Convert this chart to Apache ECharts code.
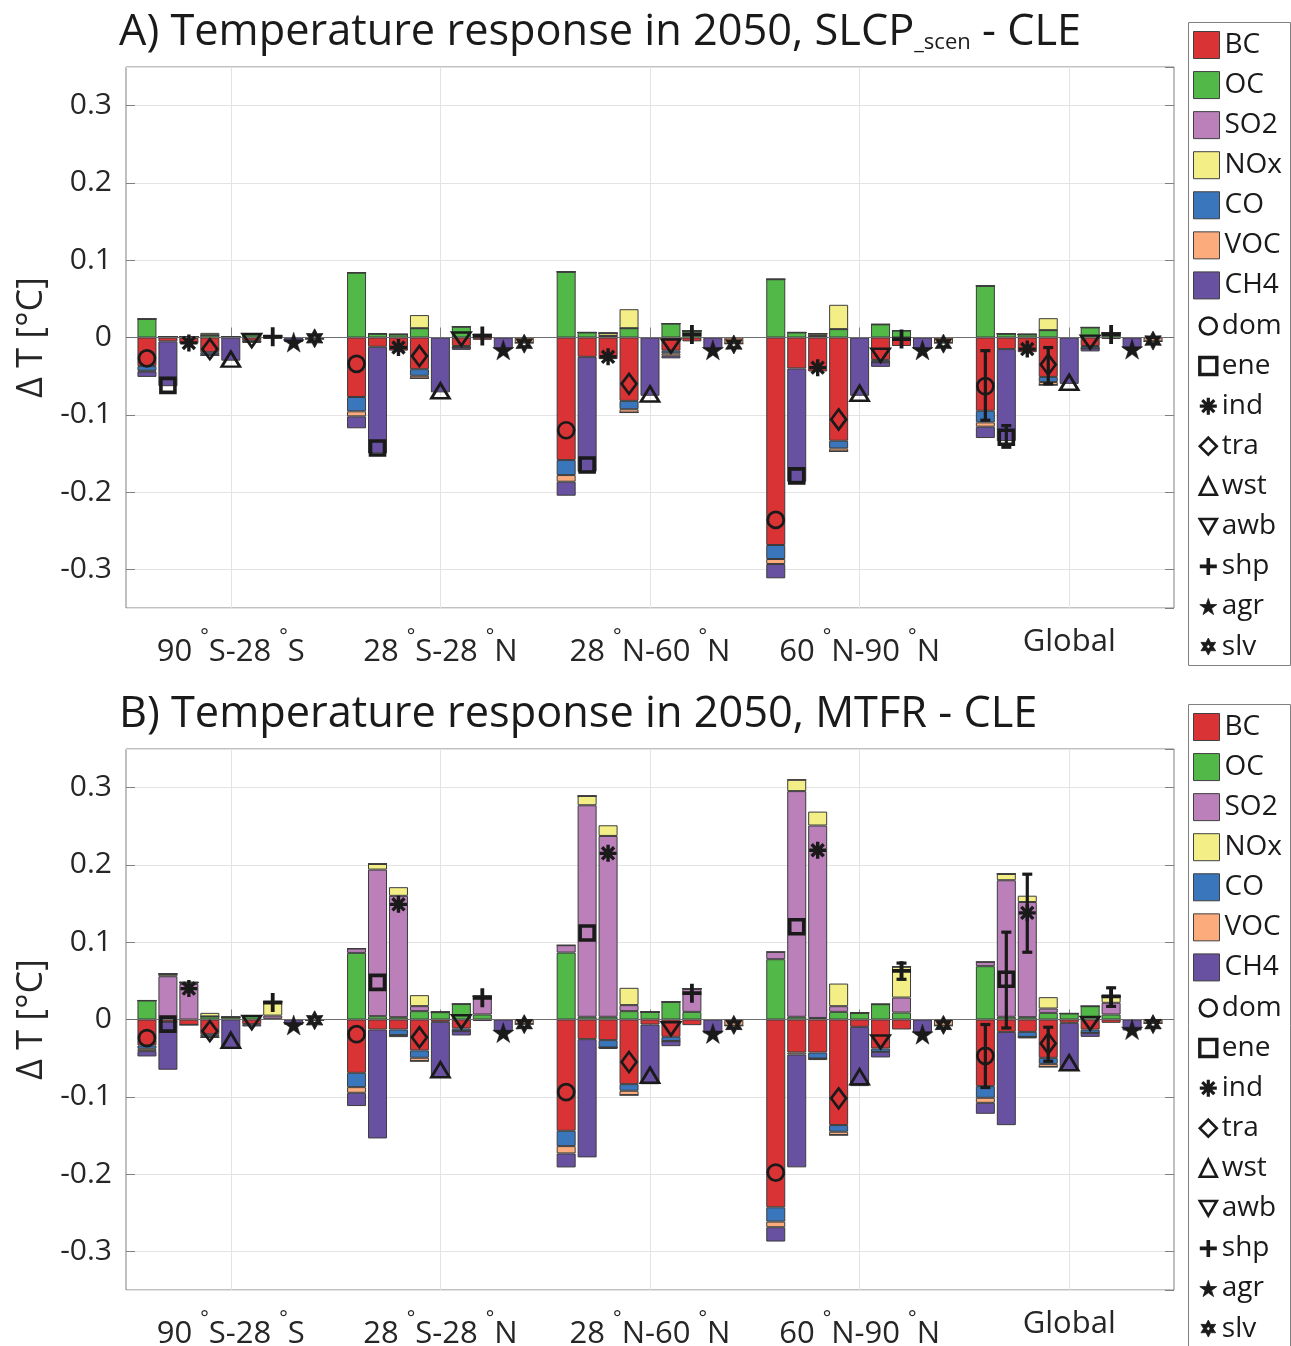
<!DOCTYPE html>
<html>
<head>
<meta charset="utf-8">
<script src="https://cdn.jsdelivr.net/npm/echarts@6.0.0/dist/echarts.min.js"></script>
<style>
html,body{margin:0;padding:0;background:#ffffff;}
#chart{width:1291px;height:1346px;}
</style>
</head>
<body>
<div id="chart"></div>
<script>
// ================= DATA =================
const regions = ['90 °S-28 °S', '28 °S-28 °N', '28 °N-60 °N', '60 °N-90 °N', 'Global'];
const sectors = ['dom', 'ene', 'ind', 'tra', 'wst', 'awb', 'shp', 'agr', 'slv'];
const species = ['BC', 'OC', 'SO2', 'NOx', 'CO', 'VOC', 'CH4'];
const titleA = ['A) Temperature response in 2050, SLCP', '_scen', ' - CLE'];
const titleB = ['B) Temperature response in 2050, MTFR - CLE'];
const yAxisName = 'Δ T [°C]';

// Panel A (SLCP_scen - CLE): 5 regions x 9 sectors (dom..slv)
const A_BC = [
  -0.037, -0.005, -0.008, -0.019, 0, -0.004, -0.001, 0, 0,
  -0.077, -0.012, -0.017, -0.041, 0, -0.011, -0.003, 0, 0,
  -0.1586, -0.025, -0.028, -0.082, 0, -0.017, -0.005, 0, 0,
  -0.2685, -0.040, -0.044, -0.1336, 0, -0.029, -0.011, 0, 0,
  -0.0948, -0.015, -0.019, -0.051, 0, -0.011, -0.002, 0, 0];
const A_OC = [
  0.024, 0.001, 0.001, 0.003, 0.001, 0.004, 0.001, 0, 0,
  0.084, 0.005, 0.004, 0.012, 0, 0.014, 0.002, 0, 0,
  0.085, 0.0065, 0.002, 0.012, 0, 0.018, 0.0086, 0, 0,
  0.0754, 0.0065, 0.002, 0.0108, 0, 0.017, 0.009, 0, 0,
  0.0668, 0.005, 0.004, 0.0095, 0, 0.013, 0.005, 0, 0];
const A_SO2 = [
  0, 0, 0, 0, 0, 0, 0, 0, 0,
  0, 0, 0, 0, 0, 0, 0, 0, 0,
  0, 0, 0, 0, 0, 0, 0, 0, 0,
  0, 0, 0, 0, 0, 0, 0, 0, 0,
  0, 0, 0, 0, 0, 0, 0, 0, 0];
const A_NOx = [
  0, 0, 0, 0.003, 0, 0, 0.001, 0, 0,
  0, 0, 0, 0.017, 0, 0, 0.002, 0, 0,
  0, 0, 0.0036, 0.0246, 0, 0, 0, 0, 0,
  0, 0, 0.003, 0.0315, 0, 0, 0, 0, 0,
  0, 0, 0, 0.0155, 0, 0, 0.001, 0, 0];
const A_CO = [
  -0.006, 0, 0, -0.003, 0, -0.001, 0, 0, 0,
  -0.0185, 0, 0, -0.0085, 0, -0.002, 0, 0, 0,
  -0.0194, 0, 0, -0.0108, 0, -0.0035, 0, 0, 0,
  -0.0181, 0, 0, -0.0099, 0, -0.003, 0, 0, 0,
  -0.015, 0, 0, -0.0065, 0, -0.003, 0, 0, 0];
const A_VOC = [
  -0.001, 0, 0, -0.001, 0, 0, 0, 0, -0.002,
  -0.0065, 0, 0, -0.0035, 0, 0, 0, 0, -0.007,
  -0.0086, 0, 0, -0.0043, 0, -0.003, 0, 0, -0.008,
  -0.0065, 0, 0, -0.0039, 0, 0, 0, 0, -0.007,
  -0.0056, 0, 0, -0.004, 0, 0, 0, 0, -0.005];
const A_CH4 = [
  -0.007, -0.058, 0, 0, -0.030, -0.002, 0, -0.006, 0,
  -0.0155, -0.138, 0, 0, -0.071, -0.003, 0, -0.015, 0,
  -0.0181, -0.1487, 0, 0, -0.0754, -0.0035, 0, -0.015, 0,
  -0.0185, -0.1466, 0, 0, -0.0754, -0.006, 0, -0.015, 0,
  -0.0147, -0.119, 0, 0, -0.060, -0.004, 0, -0.014, 0];
const A_net = [
  -0.027, -0.062, -0.007, -0.015, -0.028, -0.004, 0.001, -0.006, -0.001,
  -0.034, -0.143, -0.013, -0.024, -0.069, -0.002, 0.002, -0.016, -0.008,
  -0.120, -0.165, -0.025, -0.060, -0.073, -0.011, 0.004, -0.016, -0.009,
  -0.236, -0.179, -0.039, -0.106, -0.072, -0.023, -0.002, -0.016, -0.008,
  -0.063, -0.129, -0.015, -0.035, -0.058, -0.006, 0.004, -0.015, -0.004];
// [regionIndex, sectorIndex, low, high]
const A_err = [[4, 0, -0.107, -0.017], [4, 1, -0.142, -0.114], [4, 3, -0.060, -0.013]];

// Panel B (MTFR - CLE)
const B_BC = [
  -0.0336, -0.003, -0.007, -0.019, 0, -0.006, 0, 0, 0,
  -0.069, -0.0129, -0.0129, -0.040, -0.003, -0.0116, -0.002, 0, 0,
  -0.144, -0.0254, -0.0267, -0.0836, -0.0065, -0.0224, -0.0073, 0, 0,
  -0.243, -0.0427, -0.0427, -0.1366, -0.0095, -0.0375, -0.0129, 0, 0,
  -0.0862, -0.016, -0.016, -0.0496, -0.0043, -0.013, -0.0043, 0, 0];
const B_OC = [
  0.0246, 0, 0, 0.004, 0.003, 0.005, 0.001, 0, 0,
  0.0862, 0.0043, 0.003, 0.0108, 0.0095, 0.020, 0.0065, 0, 0,
  0.0866, 0.0035, 0.0035, 0.0108, 0.0099, 0.0228, 0.0099, 0, 0,
  0.078, 0.0035, 0.002, 0.0099, 0.0086, 0.0198, 0.009, 0, 0,
  0.069, 0.0035, 0.003, 0.0086, 0.0078, 0.0172, 0.0065, 0, 0];
const B_SO2 = [
  0, 0.056, 0.046, 0, 0, 0, 0.004, 0, 0,
  0.0056, 0.1897, 0.157, 0.0065, 0, 0, 0.0237, 0, 0,
  0.0095, 0.2737, 0.234, 0.0078, 0, 0, 0.030, 0, 0,
  0.0095, 0.292, 0.249, 0.0073, 0, 0, 0.0194, 0, 0,
  0.0056, 0.1767, 0.149, 0.0056, 0, 0, 0.0151, 0, 0];
const B_NOx = [
  0, 0.003, 0.002, 0.0046, 0, 0, 0.018, 0, 0,
  0, 0.0073, 0.0112, 0.0142, 0, 0, 0, 0, 0,
  0, 0.012, 0.0138, 0.0224, 0, 0, 0, 0, 0,
  0, 0.0147, 0.018, 0.0293, 0, 0, 0.040, 0, 0,
  0, 0.0082, 0.0082, 0.0147, 0, 0, 0.0085, 0, 0];
const B_CO = [
  -0.0043, 0, 0, -0.0026, 0, 0, 0, 0, 0,
  -0.0185, 0, -0.0073, -0.0095, 0, -0.0035, 0, 0, 0,
  -0.0198, 0, -0.0095, -0.0086, 0, -0.0056, 0, 0, 0,
  -0.0185, 0, -0.0078, -0.0086, 0, -0.0043, 0, 0, 0,
  -0.0151, 0, -0.0065, -0.0078, 0, -0.0043, 0, 0, 0];
const B_VOC = [
  -0.003, 0, 0, -0.0015, 0, 0, 0, 0, -0.001,
  -0.0073, 0, 0, -0.0043, 0, 0, 0, 0, -0.006,
  -0.0095, 0, 0, -0.0056, 0, 0, 0, 0, -0.008,
  -0.0073, -0.0026, 0, -0.0043, 0, 0, 0, 0, -0.008,
  -0.0065, 0, 0, -0.0039, 0, 0, 0, 0, -0.005];
const B_CH4 = [
  -0.0069, -0.062, 0, 0, -0.0366, -0.003, 0, -0.007, 0,
  -0.0172, -0.141, -0.0026, 0, -0.0716, -0.0056, 0, -0.015, 0,
  -0.0181, -0.153, -0.002, 0, -0.0772, -0.0065, 0, -0.018, 0,
  -0.0185, -0.146, -0.002, 0, -0.0767, -0.0073, 0, -0.017, 0,
  -0.0142, -0.1207, -0.002, 0, -0.0616, -0.0052, 0, -0.0142, 0];
const B_net = [
  -0.024, -0.006, 0.040, -0.015, -0.027, -0.004, 0.022, -0.007, -0.001,
  -0.019, 0.048, 0.149, -0.023, -0.065, -0.003, 0.028, -0.017, -0.006,
  -0.094, 0.112, 0.215, -0.055, -0.072, -0.012, 0.034, -0.018, -0.007,
  -0.198, 0.120, 0.219, -0.102, -0.074, -0.029, 0.063, -0.019, -0.007,
  -0.047, 0.052, 0.138, -0.031, -0.056, -0.005, 0.030, -0.013, -0.006];
const B_err = [[3, 6, 0.052, 0.073], [4, 0, -0.088, -0.0065], [4, 1, -0.011, 0.113],
               [4, 2, 0.087, 0.188], [4, 3, -0.054, -0.010], [4, 6, 0.017, 0.041]];

// ================= STYLE =================
const FONT = 'Open Sans';
const TXT = '#1a1a1a';
const AX = '#808080';
const speciesColors = {BC: '#d93335', OC: '#52b848', SO2: '#bb7fba', NOx: '#f3ee86',
                       CO: '#3a76bc', VOC: '#fcab7c', CH4: '#6851a1'};

function starPoints(n, rIn) {
  const pts = [];
  for (let k = 0; k < 2 * n; k++) {
    const r = (k % 2) ? rIn : 1;
    const a = -Math.PI / 2 + k * Math.PI / n;
    pts.push((10 + 10 * r * Math.cos(a)).toFixed(3) + ',' + (10 + 10 * r * Math.sin(a)).toFixed(3));
  }
  return 'M' + pts.join('L') + 'Z';
}
function holePoints(n, r) {
  const pts = [];
  for (let k = 0; k < n; k++) {
    const a = -Math.PI / 2 - k * 2 * Math.PI / n;   // opposite winding -> hole
    pts.push((10 + 10 * r * Math.cos(a)).toFixed(3) + ',' + (10 + 10 * r * Math.sin(a)).toFixed(3));
  }
  return 'M' + pts.join('L') + 'Z';
}
const CLEAR = 'rgba(0,0,0,0)';
const markerDefs = {
  dom: {symbol: 'circle', size: 16, fill: CLEAR, bw: 2.7, lbw: 2.6},
  ene: {symbol: 'rect', size: 14, fill: CLEAR, bw: 3.6, lbw: 3.4},
  ind: {symbol: 'path://M5,0L5,10M0,5L10,5M1.46,1.46L8.54,8.54M8.54,1.46L1.46,8.54', size: 17, fill: TXT, bw: 3.4, lbw: 3.2},
  tra: {symbol: 'diamond', size: [15, 20], fill: CLEAR, bw: 2.7, lbw: 2.6},
  wst: {symbol: 'triangle', size: [18, 15], fill: CLEAR, bw: 2.7, lbw: 2.6},
  awb: {symbol: 'path://M0,0L10,0L5,8.66Z', size: [18, 15], fill: CLEAR, bw: 2.7, lbw: 2.6},
  shp: {symbol: 'path://M5,0L5,10M0,5L10,5', size: 19, fill: TXT, bw: 3.8, lbw: 3.6},
  agr: {symbol: 'path://' + starPoints(5, 0.382), size: 21, fill: TXT, bw: 0.5, lbw: 0.8},
  slv: {symbol: 'path://' + starPoints(6, 0.55) + holePoints(6, 0.22), size: 19, fill: TXT, bw: 0.8, lbw: 0.8}
};

// ================= BUILD =================
const NSLOT = 51;
const cats = Array.from({length: NSLOT}, (_, i) => 'p' + i);
const slotOf = (r, s) => r * 10 + s + 1;
const isGroupCenter = (idx) => idx % 10 === 5;

function barData(arr) {
  const d = new Array(NSLOT).fill(null);
  arr.forEach((v, k) => { d[slotOf(Math.floor(k / 9), k % 9)] = v; });
  return d;
}
function regionRich(label) {
  if (label.indexOf('°') < 0) return '{g|' + label + '}';
  return '{n|' + label.split('°').join('}{d|°}{n|') + '}';
}

const panels = [
  {top: 67, vals: {BC: A_BC, OC: A_OC, SO2: A_SO2, NOx: A_NOx, CO: A_CO, VOC: A_VOC, CH4: A_CH4}, net: A_net, err: A_err, title: titleA, titleTop: 4, legTop: 22},
  {top: 749, vals: {BC: B_BC, OC: B_OC, SO2: B_SO2, NOx: B_NOx, CO: B_CO, VOC: B_VOC, CH4: B_CH4}, net: B_net, err: B_err, title: titleB, titleTop: 686, legTop: 704}
];

const grid = [], xAxis = [], yAxis = [], series = [], title = [], legend = [], graphic = [];

panels.forEach((P, p) => {
  grid.push({left: 126, top: P.top, width: 1048, height: 541, show: true,
             borderColor: AX, borderWidth: 1, backgroundColor: 'transparent', outerBoundsMode: 'none'});
  // bottom category axis
  xAxis.push({
    type: 'category', gridIndex: p, data: cats, boundaryGap: false, position: 'bottom',
    axisLine: {show: false},
    axisTick: {show: true, inside: true, length: 10, interval: isGroupCenter, lineStyle: {color: AX}},
    splitLine: {show: true, interval: isGroupCenter, lineStyle: {color: '#e3e3e3', width: 1}},
    axisLabel: {
      show: true, interval: isGroupCenter, margin: 19, color: '#262626',
      formatter: (v) => { const idx = +v.slice(1); return regionRich(regions[(idx - 5) / 10]); },
      rich: {
        n: {fontSize: 31, fontFamily: FONT, color: '#262626', lineHeight: 41, verticalAlign: 'bottom'},
        d: {fontSize: 20, fontFamily: FONT, color: '#262626', lineHeight: 20, verticalAlign: 'top'},
        g: {fontSize: 31, fontFamily: FONT, color: '#262626', lineHeight: 31, verticalAlign: 'top'}
      }
    }
  });
  // top axis (ticks only)
  xAxis.push({
    type: 'category', gridIndex: p, data: cats, boundaryGap: false, position: 'top',
    axisLine: {show: false},
    axisTick: {show: true, inside: true, length: 10, interval: isGroupCenter, lineStyle: {color: AX}},
    axisLabel: {show: false}, splitLine: {show: false}
  });
  yAxis.push({
    type: 'value', gridIndex: p, min: -0.35, max: 0.35, splitNumber: 7, position: 'left',
    name: yAxisName, nameLocation: 'middle', nameGap: 76, nameRotate: 90,
    nameTextStyle: {fontSize: 36, fontFamily: FONT, color: '#262626'},
    axisLine: {show: false},
    axisTick: {show: true, inside: true, length: 9, lineStyle: {color: AX}},
    splitLine: {show: true, lineStyle: {color: '#e3e3e3', width: 1}},
    axisLabel: {show: true, margin: 14, fontSize: 30, fontFamily: FONT, color: '#262626',
                showMinLabel: false, showMaxLabel: false}
  });
  yAxis.push({
    type: 'value', gridIndex: p, min: -0.35, max: 0.35, splitNumber: 7, position: 'right',
    axisLine: {show: false},
    axisTick: {show: true, inside: true, length: 9, lineStyle: {color: AX}},
    splitLine: {show: false}, axisLabel: {show: false}
  });

  // stacked bars
  species.forEach((sp, k) => {
    const s = {
      type: 'bar', name: sp, xAxisIndex: 2 * p, yAxisIndex: 2 * p, stack: 'panel' + p,
      barWidth: 19, data: barData(P.vals[sp]), silent: true, z: 2,
      itemStyle: {color: speciesColors[sp], borderColor: '#3c3c3c', borderWidth: 1}
    };
    if (k === 0) {
      s.markLine = {silent: true, symbol: 'none', label: {show: false},
                    lineStyle: {color: '#6e6e6e', width: 1, type: 'solid'},
                    data: [{yAxis: 0}], animation: false};
    }
    series.push(s);
  });

  // net markers
  sectors.forEach((sec, s) => {
    const m = markerDefs[sec];
    series.push({
      type: 'scatter', name: sec, xAxisIndex: 2 * p, yAxisIndex: 2 * p, silent: true, z: 5,
      symbol: m.symbol, symbolSize: m.size, symbolKeepAspect: true,
      itemStyle: {color: m.fill, borderColor: TXT, borderWidth: m.bw, opacity: 1},
      data: regions.map((_, r) => [slotOf(r, s), P.net[r * 9 + s]])
    });
  });

  // error bars
  series.push({
    type: 'custom', name: 'err' + p, xAxisIndex: 2 * p, yAxisIndex: 2 * p, silent: true, z: 6,
    data: P.err.map(e => [slotOf(e[0], e[1]), e[2], e[3]]),
    encode: {x: 0, y: [1, 2]},
    renderItem: (params, api) => {
      const x = api.value(0);
      const p1 = api.coord([x, api.value(1)]);
      const p2 = api.coord([x, api.value(2)]);
      const w = 5, st = {stroke: TXT, lineWidth: 3.2};
      return {type: 'group', children: [
        {type: 'line', shape: {x1: p1[0], y1: p1[1], x2: p2[0], y2: p2[1]}, style: st},
        {type: 'line', shape: {x1: p1[0] - w, y1: p1[1], x2: p1[0] + w, y2: p1[1]}, style: st},
        {type: 'line', shape: {x1: p2[0] - w, y1: p2[1], x2: p2[0] + w, y2: p2[1]}, style: st}
      ]};
    }
  });

  // title
  let txt;
  if (P.title.length === 3) txt = '{t|' + P.title[0] + '}{s|' + P.title[1] + '}{t|' + P.title[2] + '}';
  else txt = '{t|' + P.title[0] + '}';
  title.push({
    left: 119, top: P.titleTop, padding: 0, text: txt,
    textStyle: {fontWeight: 'normal', rich: {
      t: {fontSize: 43.3, fontFamily: FONT, fontWeight: 'normal', color: TXT, lineHeight: 50, verticalAlign: 'bottom'},
      s: {fontSize: 22, fontFamily: FONT, fontWeight: 'normal', color: TXT, lineHeight: 24, verticalAlign: 'bottom'}
    }}
  });

  // legends
  legend.push({
    orient: 'vertical', left: 1193, top: P.legTop + 9, itemWidth: 26, itemHeight: 27, itemGap: 12.07,
    padding: 0, selectedMode: false,
    textStyle: {fontSize: 28, lineHeight: 28, fontFamily: FONT, color: TXT},
    data: species.map(n => ({name: n, icon: 'rect',
      itemStyle: {color: speciesColors[n], borderColor: '#404040', borderWidth: 1}}))
  });
  legend.push({
    orient: 'vertical', left: 1198, top: P.legTop + 290, itemWidth: 17, itemHeight: 17, itemGap: 12.07,
    padding: 0, selectedMode: false,
    textStyle: {fontSize: 28, lineHeight: 28, fontFamily: FONT, color: TXT},
    data: sectors.map(n => ({name: n, icon: markerDefs[n].symbol,
      itemStyle: {color: markerDefs[n].fill, borderColor: TXT, borderWidth: markerDefs[n].lbw}}))
  });
  graphic.push({type: 'rect', silent: true, z: -1,
    shape: {x: 1188.5, y: P.legTop + 0.5, width: 102, height: 643},
    style: {fill: 'none', stroke: AX, lineWidth: 1}});
});

const chart = echarts.init(document.getElementById('chart'), null, {renderer: 'canvas'});
chart.setOption({
  animation: false,
  backgroundColor: '#ffffff',
  textStyle: {fontFamily: FONT},
  title, legend, grid, xAxis, yAxis, series, graphic
});
</script>
</body>
</html>
